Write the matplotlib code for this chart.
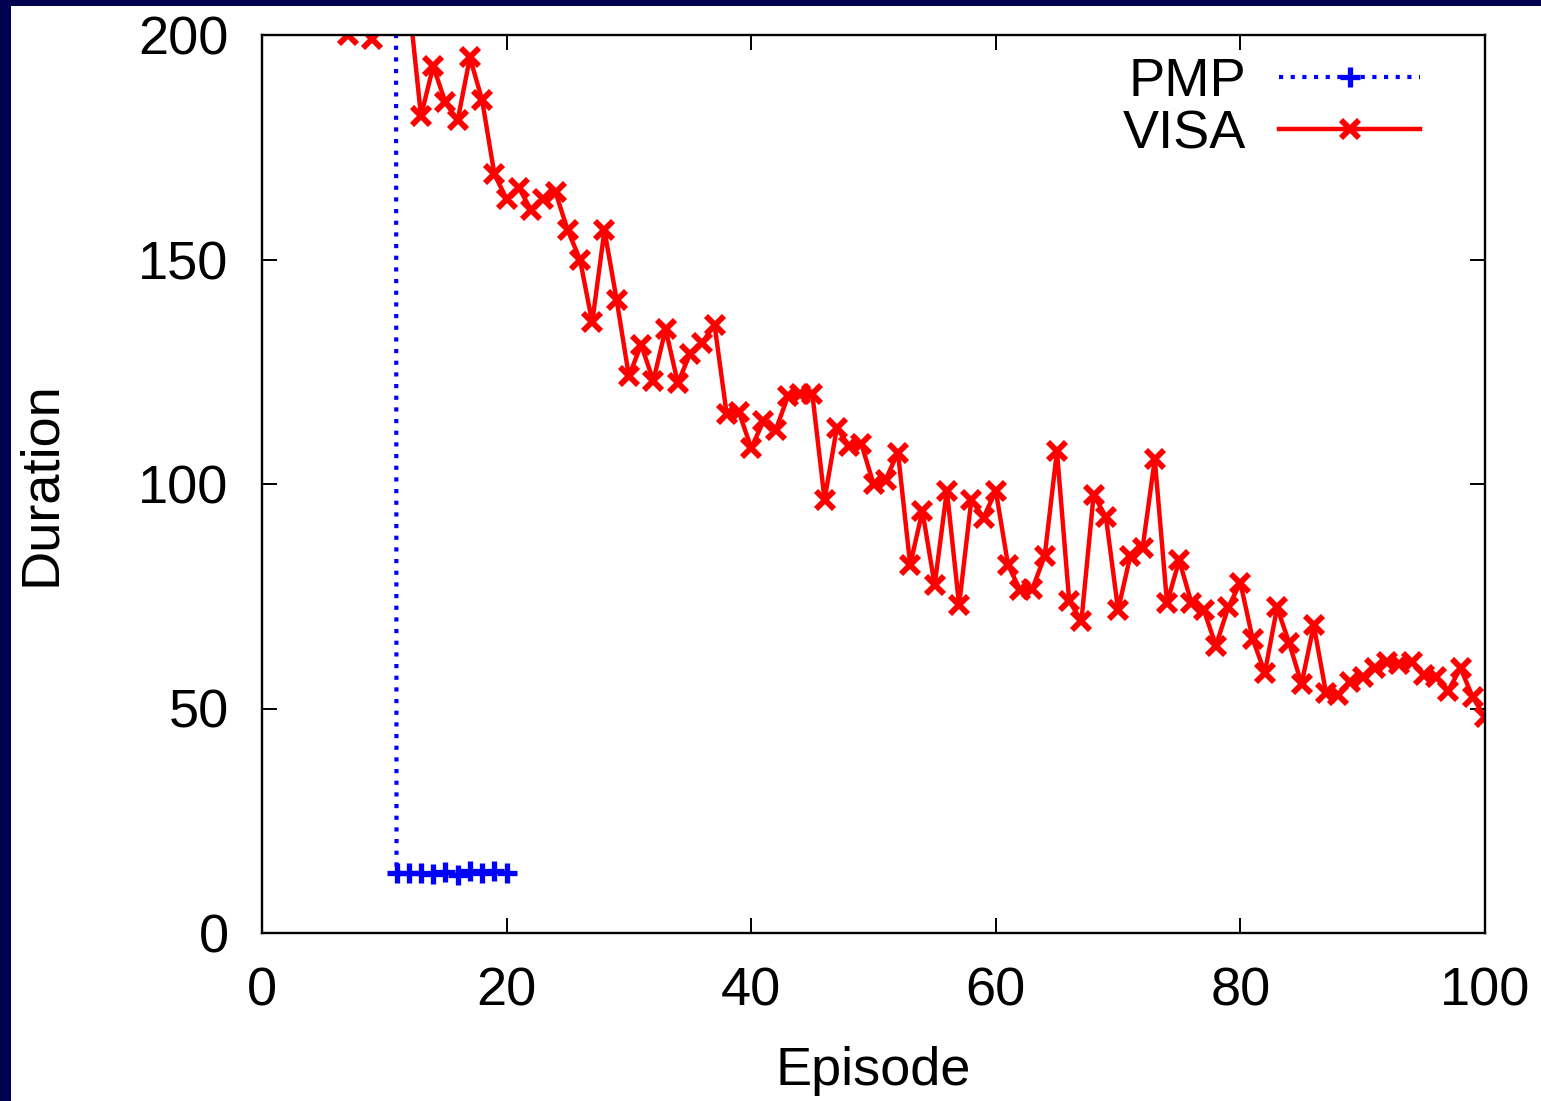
import numpy as np
import matplotlib
matplotlib.use('Agg')
import matplotlib.pyplot as plt
from matplotlib.patches import Rectangle

plt.rcParams['font.family'] = ['Liberation Sans', 'DejaVu Sans']

# episodes
episodes = np.arange(1, 101)

# PMP durations (first 10 episodes far off the top of the chart)
pmp = [5000]*10 + [13.4, 13.3, 13.4, 13.1, 13.6, 13.0, 13.7, 13.4, 13.9, 13.3]
pmp_episodes = episodes[:len(pmp)]

# VISA durations (values above 200 are clipped by the axis)
visa = [210, 210, 210, 210, 210, 210, 200, 210, 199, 210,
        210, 208, 182, 193, 185, 181, 195, 185.5, 169, 163.5,
        166, 161, 163.5, 165, 156.5, 150, 136, 156.5, 141, 124,
        131, 123, 134.5, 122.5, 129, 131.5, 135.5, 115.5, 116, 108,
        114, 112, 119.5, 120, 120, 96.5, 112.5, 108.5, 109, 100,
        101, 107, 82, 94, 77.5, 98.5, 73, 96.5, 92.5, 98.5,
        82, 76.3, 76.7, 84, 107.3, 74, 69.5, 97.6, 92.7, 72,
        84, 85.7, 105.5, 73.5, 83, 73.5, 72, 64, 72.5, 78,
        65.5, 58, 72.5, 64.5, 55.5, 68.5, 53.5, 53, 56, 57,
        59, 60.3, 60, 60.3, 57.5, 57, 54, 59, 52.5, 48]

xticks = [0, 20, 40, 60, 80, 100]
yticks = [0, 50, 100, 150, 200]

fs = 39

fig = plt.figure(figsize=(15.41, 11.01), dpi=100, facecolor='#000050')
# white slide area inside the navy frame
fig.add_artist(Rectangle((11/1541, 0), 1, 1 - 6/1101, transform=fig.transFigure,
                         facecolor='white', edgecolor='none', zorder=-5))

ax = fig.add_axes([262/1541, 1 - 933/1101, (1485-262)/1541, (933-35)/1101])

ax.plot(pmp_episodes, pmp, color='#0000ff', linestyle=(0, (1.0, 1.8)), lw=3.0,
        marker='+', markersize=14, markeredgewidth=3.8, label='PMP')
ax.plot(episodes, visa, color='#ff0000', linestyle='-', lw=3.2,
        marker='x', markersize=13, markeredgewidth=4.2, label='VISA')

ax.set_xlim(0, 100)
ax.set_ylim(0, 200)
ax.set_xticks(xticks)
ax.set_yticks(yticks)
ax.tick_params(direction='in', length=11, width=1.4, labelsize=fs,
               top=True, right=True)
ax.tick_params(axis='x', pad=24)
ax.tick_params(axis='y', pad=24)
for s in ax.spines.values():
    s.set_linewidth(1.7)

ax.set_xlabel('Episode', fontsize=fs, labelpad=21)
ax.set_ylabel('Duration', fontsize=fs, labelpad=52)

leg = ax.legend(loc='upper right', bbox_to_anchor=(0.967, 1.003), frameon=False,
                fontsize=fs, markerfirst=False, handlelength=2.6,
                handletextpad=0.62, labelspacing=0.05, numpoints=1,
                borderaxespad=0.05)

fig.savefig('out.png', dpi=100, facecolor=fig.get_facecolor())
